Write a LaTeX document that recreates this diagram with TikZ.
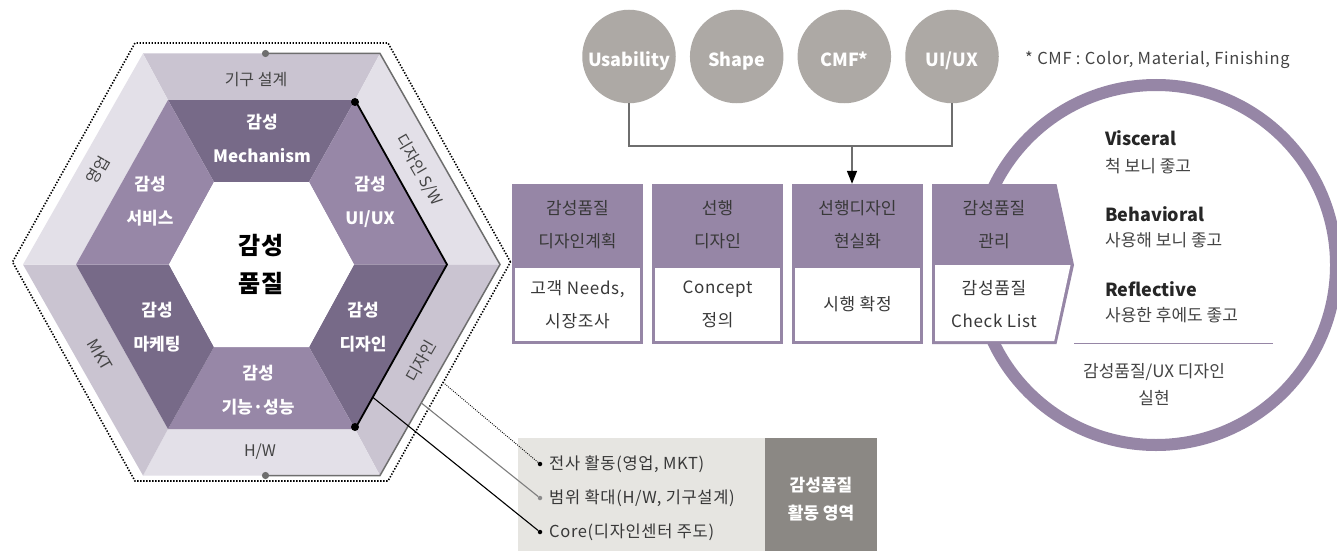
\documentclass[tikz,border=0pt]{standalone}
\usepackage{fontspec}
\setmainfont{Noto Sans CJK KR}
\newfontfamily\spc{Noto Sans CJK KR}[LetterSpace=4]
\usetikzlibrary{arrows.meta,calc}
\definecolor{pdark}{HTML}{776A88}
\definecolor{plight}{HTML}{9787A7}
\definecolor{bmed}{HTML}{CAC4D1}
\definecolor{blight}{HTML}{E3E0E8}
\definecolor{cgray}{HTML}{ADA9A5}
\definecolor{boxp}{HTML}{9686A6}
\definecolor{ltbox}{HTML}{E6E5E1}
\definecolor{dkbox}{HTML}{8B8884}
\definecolor{txt}{HTML}{383838}
\definecolor{txtb}{HTML}{444444}
\definecolor{lineg}{HTML}{6E6E6E}
\newcommand{\hexpts}[5]{%
  \coordinate (#1E) at ({261.5+#2},{#5});
  \coordinate (#1NE) at ({261.5+#3},{#5-#4});
  \coordinate (#1NW) at ({261.5-#3},{#5-#4});
  \coordinate (#1W) at ({261.5-#2},{#5});
  \coordinate (#1SW) at ({261.5-#3},{#5+#4});
  \coordinate (#1SE) at ({261.5+#3},{#5+#4});
}
\begin{document}
\begin{tikzpicture}[x=1pt,y=-1pt,
  wlab/.style={text=white, font=\bfseries\fontsize{17}{34}\selectfont, align=center, inner sep=0pt},
  blab/.style={text=txtb, font=\fontsize{16}{18}\selectfont, inner sep=0pt},
  hdrbox/.style={fill=boxp, minimum width=131pt, minimum height=81pt, inner sep=0pt, text=txt, align=center, font=\fontsize{17}{33}\selectfont},
  bodybox/.style={fill=white, draw=boxp, line width=3pt, minimum width=128pt, minimum height=76pt, inner sep=0pt, text=txt, align=center, font=\spc\fontsize{17}{33}\selectfont},
  hdrtxt/.style={text=txt, align=center, inner sep=0pt, font=\fontsize{17}{33}\selectfont},
  cnode/.style={circle, fill=cgray, minimum size=93.5pt, inner sep=0pt},
  ctext/.style={anchor=base, inner sep=0pt, text=white, font=\bfseries\fontsize{18}{20}\selectfont},
  bul/.style={circle, inner sep=0pt, minimum size=4.5pt, fill=#1},
  btxt/.style={anchor=west, inner sep=0pt, text=txt, font=\spc\fontsize{16.5}{18}\selectfont},
  head/.style={anchor=west, inner sep=0pt, text=black!85, font=\bfseries\fontsize{18}{20}\selectfont},
  sub/.style={anchor=west, inner sep=0pt, text=txtb, font=\fontsize{17}{20}\selectfont},
  gl/.style={lineg, line width=1.5pt}
]
\clip (0,0) rectangle (1337,551);
\fill[white] (0,0) rectangle (1337,551);

% ---------------- hexagon ----------------
\hexpts{D}{249}{126.5}{219}{262}
\hexpts{B}{238.5}{118.5}{211}{264.5}
\hexpts{P}{185.5}{93.5}{164.5}{264.5}
\hexpts{I}{92.5}{47.5}{82.5}{264.5}

\fill[bmed]   (BNW) -- (BNE) -- (PNE) -- (PNW) -- cycle;
\fill[blight] (BNE) -- (BE) -- (PE) -- (PNE) -- cycle;
\fill[bmed]   (BE) -- (BSE) -- (PSE) -- (PE) -- cycle;
\fill[blight] (BSE) -- (BSW) -- (PSW) -- (PSE) -- cycle;
\fill[bmed]   (BSW) -- (BW) -- (PW) -- (PSW) -- cycle;
\fill[blight] (BW) -- (BNW) -- (PNW) -- (PW) -- cycle;

\fill[pdark]  (PNW) -- (PNE) -- (INE) -- (INW) -- cycle;
\fill[plight] (PNE) -- (PE) -- (IE) -- (INE) -- cycle;
\fill[pdark]  (PE) -- (PSE) -- (ISE) -- (IE) -- cycle;
\fill[plight] (PSE) -- (PSW) -- (ISW) -- (ISE) -- cycle;
\fill[pdark]  (PSW) -- (PW) -- (IW) -- (ISW) -- cycle;
\fill[plight] (PW) -- (PNW) -- (INW) -- (IW) -- cycle;
\fill[white]  (IE) -- (INE) -- (INW) -- (IW) -- (ISW) -- (ISE) -- cycle;

\draw[black, line width=1.6pt, dash pattern=on 1.4pt off 1.6pt]
  (DE) -- (DNE) -- (DNW) -- (DW) -- (DSW) -- (DSE) -- cycle;

% gray line with dots
\coordinate (gt) at (265.5,53.5);
\coordinate (gb) at (265.5,475.5);
\draw[gl] (gt) -- (BNE) -- (BE) -- (BSE) -- (gb);
\fill[lineg] (gt) circle (3.6) (gb) circle (3.6);

% black line with dots
\draw[black, line width=1.8pt] (PNE) -- (PE) -- (PSE);
\fill[black] ($(PNE)+(0,2)$) circle (4) ($(PSE)+(0,-2)$) circle (4);

% band labels
\node[blab] (lbtop) at (256,80) {기구 설계};
\node[blab] (lbbot) at (260,452) {H/W};
\node[blab, rotate=-60] (lbur) at (419,170) {디자인 S/W};
\node[blab, rotate=60] (lblr) at (421,361) {디자인};
\node[blab, rotate=60] (lbul) at (98,170) {영업};
\node[blab, rotate=-60] (lbll) at (100,355) {MKT};

% ring labels
\node[wlab] (rtop) at (262,138) {감성\\Mechanism};
\node[wlab] (rur) at (370,201.5) {감성\\UI/UX};
\node[wlab] (rlr) at (363,327.5) {감성\\디자인};
\node[wlab] (rbot) at (258,390) {감성\\기능·성능};
\node[wlab] (rll) at (157,327.5) {감성\\마케팅};
\node[wlab] (rul) at (150,201.5) {감성\\서비스};
\node[inner sep=0pt, align=center, font=\bfseries\fontsize{24}{38}\selectfont] (core) at (261,264) {감성\\품질};

% ---------------- activity box ----------------
\node[fill=ltbox, anchor=north west, minimum width=247pt, minimum height=113pt, inner sep=0pt] (lb) at (518,438) {};
\node[fill=dkbox, anchor=north west, minimum width=112pt, minimum height=113pt, inner sep=0pt] (db) at (765,438) {};
\node[text=white, align=center, inner sep=0pt, font=\bfseries\fontsize{17}{28}\selectfont] (dbt) at (821,499) {감성품질\\활동 영역};

\node[bul=black] (b1) at (540,464) {};
\node[bul=lineg!80] (b2) at (540,498) {};
\node[bul=black] (b3) at (540,532) {};
\node[btxt] (t1) at (549,464) {전사 활동(영업, MKT)};
\node[btxt] (t2) at (549,498) {범위 확대(H/W, 기구설계)};
\node[btxt] (t3) at (549,532) {Core(디자인센터 주도)};

\coordinate (l1) at ($(DE)!0.55!(DSE)$);
\coordinate (l2) at ($(BE)!0.656!(BSE)$);
\coordinate (l3) at ($(PE)!0.807!(PSE)$);
\draw[black, line width=0.9pt, dash pattern=on 0.9pt off 1.3pt] (l1) -- (b1);
\draw[lineg!90, line width=1.1pt] (l2) -- (b2);
\draw[black, line width=1.1pt] (l3) -- (b3);

% ---------------- big ring ----------------
\node[circle, draw=boxp, line width=12pt, minimum size=360pt, inner sep=0pt] (ring) at (1156,265) {};

% ---------------- top circles ----------------
\node[cnode] (c1) at (629,56.5) {};
\node[cnode] (c2) at (736.7,56.5) {};
\node[cnode] (c3) at (844.3,56.5) {};
\node[cnode] (c4) at (952,56.5) {};
\node[ctext] (c1t) at (629,66.5) {Usability};
\node[ctext] (c2t) at (736.7,66.5) {Shape};
\node[ctext] (c3t) at (844.3,66.5) {CMF*};
\node[ctext] (c4t) at (952,66.5) {UI/UX};
\node[anchor=west, inner sep=0pt, text=txtb, font=\spc\fontsize{16.5}{18}\selectfont] (note) at (1025,60) {* CMF : Color, Material, Finishing};

% ---------------- process boxes ----------------
\node[bodybox] (d1) at (577.5,304.5) {고객 Needs,\\시장조사};
\node[hdrbox] (h1) at (577.5,224.5) {감성품질\\디자인계획};
\node[bodybox] (d2) at (717.5,304.5) {Concept\\정의};
\node[hdrbox] (h2) at (717.5,224.5) {선행\\디자인};
\node[bodybox] (d3) at (857.5,304.5) {시행 확정};
\node[hdrbox] (h3) at (857.5,224.5) {선행디자인\\현실화};

\fill[boxp] (932,184) -- (1056.5,184) -- (1074,265) -- (1056.5,344) -- (932,344) -- cycle;
\fill[white] (935,265) -- (1070.5,265) -- (1054.2,341) -- (935,341) -- cycle;
\node[hdrtxt] (h4) at (994,224.5) {감성품질\\관리};
\node[hdrtxt, font=\spc\fontsize{17}{33}\selectfont] (d4) at (994,304) {감성품질\\Check List};

% connector from circles
\coordinate (j) at (852,146);
\draw[gl] (c1.south) -- (c1.south |- j) -- (c4.south |- j) -- (c4.south);
\draw[gl, -{Triangle[width=10pt,length=13pt,color=black]}] (j) -- (j |- h3.north);

% ---------------- ring contents ----------------
\node[head] (v1) at (1105,138) {Visceral};
\node[sub] (v2) at (1105,166) {척 보니 좋고};
\node[head] (v3) at (1105,214) {Behavioral};
\node[sub] (v4) at (1105,240) {사용해 보니 좋고};
\node[head] (v5) at (1105,289) {Reflective};
\node[sub] (v6) at (1105,315) {사용한 후에도 좋고};
\coordinate (sepa) at (1074,343);
\coordinate (sepb) at (1273,343);
\draw[boxp, line width=0.9pt] (sepa) -- (sepb);
\node[inner sep=0pt, align=center, text=txtb, font=\fontsize{17}{27}\selectfont] (fin) at (1154,385) {감성품질/UX 디자인\\실현};
\end{tikzpicture}
\end{document}
